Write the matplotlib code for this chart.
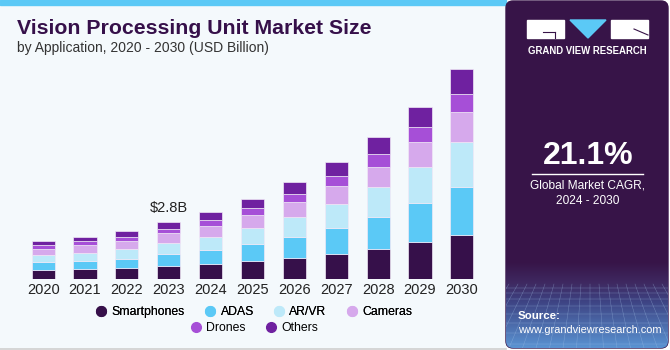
import numpy as np
import matplotlib.pyplot as plt
from matplotlib.patches import FancyBboxPatch, Rectangle, Polygon
from matplotlib.lines import Line2D
import matplotlib.colors as mcolors

plt.rcParams["font.family"] = ["Liberation Sans", "DejaVu Sans"]

# --- dati (USD Billion) ---
years = ["2020", "2021", "2022", "2023", "2024", "2025",
         "2026", "2027", "2028", "2029", "2030"]
smartphones = [0.43, 0.47, 0.52, 0.62, 0.74, 0.88, 1.03, 1.23, 1.47, 1.81, 2.18]
adas        = [0.38, 0.43, 0.48, 0.60, 0.68, 0.84, 1.04, 1.29, 1.59, 1.95, 2.38]
ar_vr       = [0.35, 0.40, 0.45, 0.55, 0.65, 0.78, 0.98, 1.19, 1.49, 1.80, 2.25]
cameras     = [0.31, 0.38, 0.43, 0.48, 0.53, 0.65, 0.74, 0.89, 1.01, 1.23, 1.47]
drones      = [0.20, 0.20, 0.21, 0.23, 0.33, 0.36, 0.41, 0.50, 0.65, 0.76, 0.91]
others      = [0.21, 0.21, 0.28, 0.33, 0.38, 0.43, 0.58, 0.68, 0.81, 0.99, 1.24]

series = [smartphones, adas, ar_vr, cameras, drones, others]
labels = ["Smartphones", "ADAS", "AR/VR", "Cameras", "Drones", "Others"]
colors = ["#36104a", "#5bc9f6", "#bde9f9", "#d6a9ec", "#a64fd7", "#6f21a0"]

W, H = 670, 350
bg_col = "#f4f9fc"
panel_col = "#371448"

fig = plt.figure(figsize=(W / 100, H / 100), dpi=100)
fig.patch.set_facecolor("white")

# --- sfondo / decorazioni in pixel ---
bg = fig.add_axes([0, 0, 1, 1])
bg.set_xlim(0, W)
bg.set_ylim(H, 0)
bg.axis("off")
bg.add_patch(Rectangle((0, 0), 506, 348, color=bg_col, zorder=0))
bg.add_patch(Rectangle((0, 0), 506, 5, color="#5bc9f6", zorder=1))
bg.plot([0, 506], [348.5, 348.5], color="#cfcfcf", lw=1.2, zorder=1)

# pannello destro
panel = FancyBboxPatch((506, 1), 162, 347, boxstyle="round,pad=0,rounding_size=7",
                       color=panel_col, zorder=1)
bg.add_patch(panel)
grad = np.linspace(0, 1, 200)[:, None]
cmap = mcolors.LinearSegmentedColormap.from_list(
    "g", [(0, panel_col), (0.25, "#3f2a62"), (0.45, "#3d4282"), (1, "#5a93d2")])
im = bg.imshow(grad, extent=(506, 668, 348, 262), cmap=cmap, aspect="auto", zorder=1.5,
               interpolation="bilinear")
im.set_clip_path(panel)
for yy in [288, 293, 299, 306, 314, 323, 333, 344]:
    ln, = bg.plot([506, 668], [yy, yy], color="#a8c6ea", lw=0.35, alpha=0.45, zorder=1.6)
    ln.set_clip_path(panel)
for xx in np.arange(500, 690, 9):
    ln, = bg.plot([xx, xx + (xx - 590) * 0.5], [284, 348], color="#a8c6ea", lw=0.35,
                  alpha=0.45, zorder=1.6)
    ln.set_clip_path(panel)

# logo
bg.add_patch(Rectangle((527, 20), 37, 18, color="white", zorder=2))
bg.plot([543, 555], [32, 32], color=panel_col, lw=0.8, zorder=3)
bg.plot([555, 555], [32, 38], color=panel_col, lw=0.8, zorder=3)
bg.add_patch(Polygon([(570, 20), (606, 20), (588, 38)], color="#5bc9f6", zorder=2))
bg.add_patch(Rectangle((611, 20), 37, 18, color="white", zorder=2))
bg.plot([634, 648], [29, 35], color=panel_col, lw=0.8, zorder=3)
bg.text(587.5, 51, "GRAND VIEW RESEARCH", color="white", fontsize=6.9, fontweight="bold",
        ha="center", va="center", zorder=3)

bg.text(588, 156, "21.1%", color="white", fontsize=23, fontweight="bold",
        ha="center", va="center", zorder=3)
bg.plot([532, 643], [173.5, 173.5], color="white", lw=1, zorder=3)
bg.text(588, 186, "Global Market CAGR,", color="white", fontsize=8.6,
        ha="center", va="center", zorder=3)
bg.text(588, 201, "2024 - 2030", color="white", fontsize=8.6,
        ha="center", va="center", zorder=3)
bg.text(518, 316, "Source:", color="white", fontsize=8.2, fontweight="bold",
        ha="left", va="center", zorder=3)
bg.text(518, 330, "www.grandviewresearch.com", color="white", fontsize=7.9,
        ha="left", va="center", zorder=3)

# titoli
bg.text(17, 28, "Vision Processing Unit Market Size", color="#36104a", fontsize=15.3,
        fontweight="bold", ha="left", va="center", zorder=3,
        family=["Liberation Sans Narrow", "Liberation Sans", "DejaVu Sans"])
bg.text(17, 48, "by Application, 2020 - 2030 (USD Billion)", color="#333333", fontsize=10,
        ha="left", va="center", zorder=3)

# --- grafico a barre ---
ax = fig.add_axes([18 / W, 71.3 / H, 469 / W, 218.7 / H])
ax.set_facecolor("none")
x = np.arange(len(years))
bottom = np.zeros(len(years))
for vals, lab, col in zip(series, labels, colors):
    ax.bar(x, vals, width=0.55, bottom=bottom, color=col, label=lab,
           edgecolor="#f0e8f6", linewidth=0.5)
    bottom += np.array(vals)

totals = bottom
ax.text(x[3], totals[3] + 0.35, "$2.8B", ha="center", va="bottom", fontsize=10.5,
        color="#222222")

ax.set_xlim(-0.6, 10.6)
ax.set_ylim(0, 10.86)
ax.set_xticks(x)
ax.set_xticklabels(years, fontsize=10.5, color="#222222")
ax.tick_params(axis="x", length=0, pad=3)
ax.set_yticks([])
for s in ax.spines.values():
    s.set_visible(False)

# legenda su due righe
handles = [Line2D([], [], marker="o", linestyle="none", markersize=7,
                  markerfacecolor=c, markeredgecolor=c) for c in colors]
leg_kw = dict(loc="center", frameon=False, fontsize=8.8, handletextpad=0.25,
              columnspacing=1.45, handlelength=1.2)
leg1 = fig.legend(handles[:4], labels[:4], bbox_to_anchor=(253 / W, 1 - 312 / H),
                  ncol=4, **leg_kw)
fig.add_artist(leg1)
fig.legend(handles[4:], labels[4:], bbox_to_anchor=(253 / W, 1 - 328 / H),
           ncol=2, **leg_kw)

fig.savefig("out.png", dpi=100, facecolor=fig.get_facecolor())
